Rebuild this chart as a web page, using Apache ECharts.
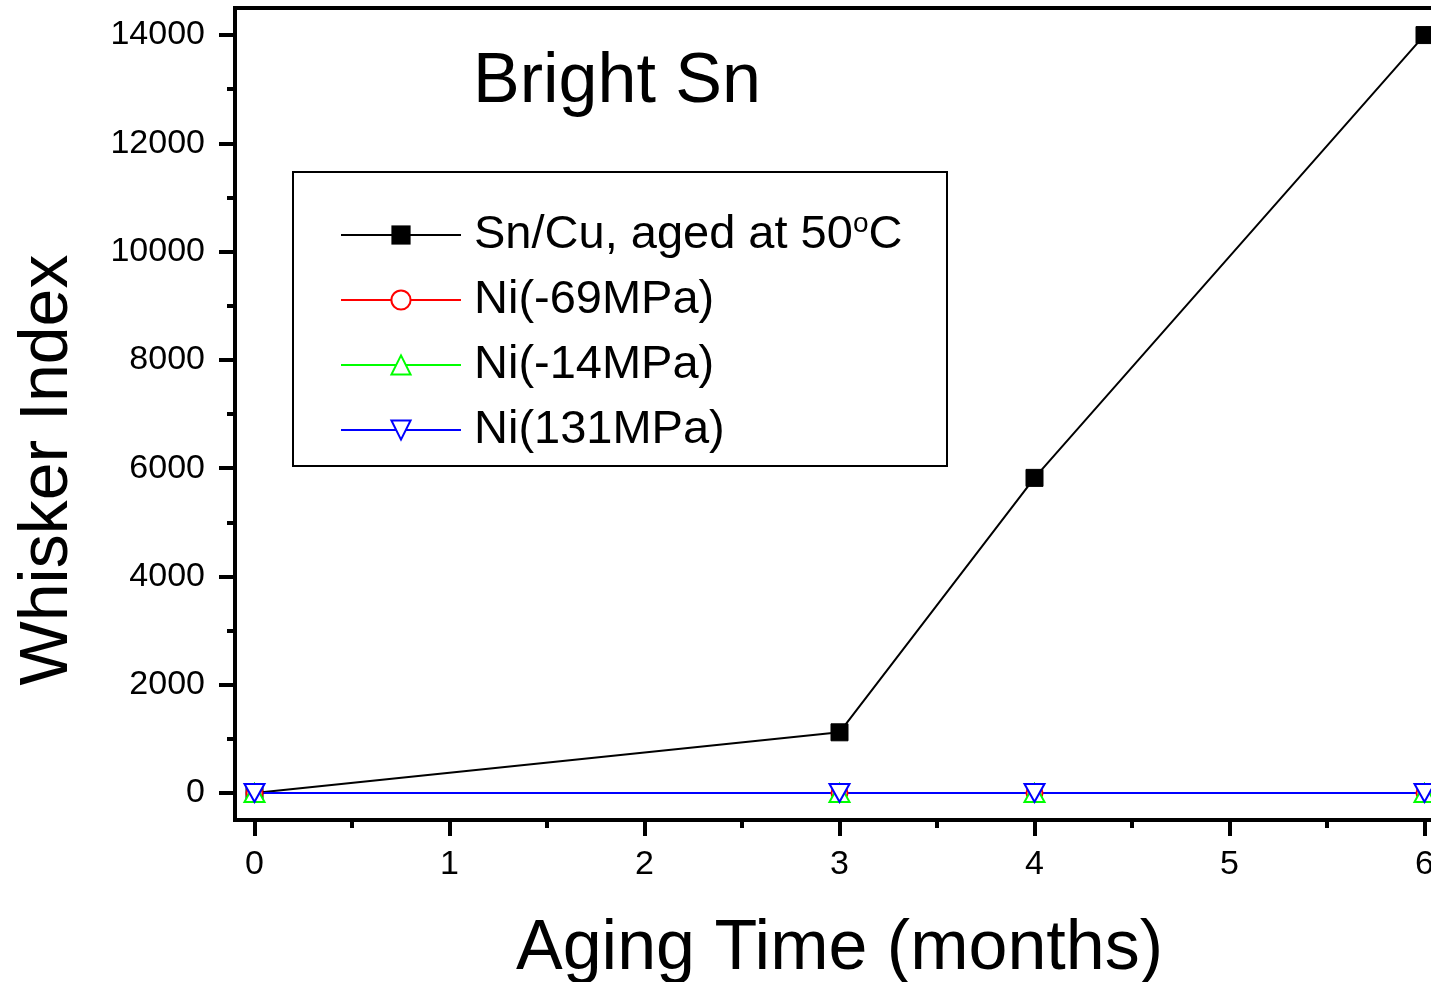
<!DOCTYPE html>
<html>
<head>
<meta charset="utf-8">
<script src="https://cdn.jsdelivr.net/npm/echarts@6/dist/echarts.min.js"></script>
<style>
  html, body { margin: 0; padding: 0; background: #fff; }
  #chart { width: 1431px; height: 982px; }
</style>
</head>
<body>
<div id="chart"></div>
<script>
// data
const months = [0, 3, 4, 6];
const snCu = [0, 1120, 5820, 14000];
const ni69 = [0, 0, 0, 0];
const ni14 = [0, 0, 0, 0];
const ni131 = [0, 0, 0, 0];

// tick positions
const xMajorTicks = [0, 1, 2, 3, 4, 5, 6];
const xMinorTicks = [0.5, 1.5, 2.5, 3.5, 4.5, 5.5];
const yMajorTicks = [0, 2000, 4000, 6000, 8000, 10000, 12000, 14000];
const yMinorTicks = [1000, 3000, 5000, 7000, 9000, 11000, 13000];

const FONT = "'Liberation Sans', Arial, sans-serif";
const pairs = (ys) => months.map((m, i) => [m, ys[i]]);

const chart = echarts.init(document.getElementById("chart"));

const xBase = {
  type: "value",
  min: -0.1,
  max: 6.1,
  position: "bottom",
  splitLine: { show: false },
};
const yBase = {
  type: "value",
  min: -500,
  max: 14500,
  position: "left",
  splitLine: { show: false },
};

const option = {
  animation: false,
  backgroundColor: "#fff",
  textStyle: { fontFamily: FONT },

  title: {
    text: "Bright Sn",
    left: 473,
    top: 48,
    padding: 0,
    textStyle: { fontFamily: FONT, fontSize: 70, fontWeight: "normal", color: "#000" },
  },

  grid: {
    left: 235,
    right: -13,
    top: 8,
    bottom: 162,
    outerBoundsMode: "none",
    show: true,
    borderColor: "#000",
    borderWidth: 4,
  },

  graphic: [
    {
      type: "rect",
      shape: { x: 293, y: 172, width: 654, height: 294 },
      style: { fill: "#fff", stroke: "#000", lineWidth: 2 },
      z: 5,
    },
  ],

  legend: {
    orient: "vertical",
    left: 340,
    top: 210,
    padding: 0,
    itemWidth: 120,
    itemHeight: 24,
    itemGap: 18,
    selectedMode: false,
    z: 10,
    formatter: (name) =>
      name === "Sn/Cu, aged at 50°C" ? "{a|Sn/Cu, aged at 50}{s|o}{a|C}" : "{a|" + name + "}",
    textStyle: {
      color: "#000",
      padding: [0, 0, 0, 8],
      rich: {
        a: { fontFamily: FONT, fontSize: 47, lineHeight: 50, color: "#000" },
        s: { fontFamily: FONT, fontSize: 28, lineHeight: 12, verticalAlign: "top", color: "#000" },
      },
    },
    data: ["Sn/Cu, aged at 50°C", "Ni(-69MPa)", "Ni(-14MPa)", "Ni(131MPa)"],
  },

  xAxis: [
    {
      ...xBase,
      name: "Aging Time (months)",
      nameLocation: "middle",
      nameGap: 95,
      nameTextStyle: { fontFamily: FONT, fontSize: 70, color: "#000" },
      axisLine: { show: true, onZero: false, lineStyle: { color: "#000", width: 4 } },
      axisTick: { show: true, customValues: xMajorTicks, length: 16, lineStyle: { color: "#000", width: 4 } },
      axisLabel: {
        customValues: xMajorTicks,
        margin: 28,
        fontSize: 34,
        color: "#000",
        fontFamily: FONT,
        formatter: (v) => String(v),
      },
    },
    {
      ...xBase,
      axisLine: { show: false, onZero: false },
      axisTick: { show: true, customValues: xMinorTicks, length: 8, lineStyle: { color: "#000", width: 4 } },
      axisLabel: { show: false },
    },
  ],

  yAxis: [
    {
      ...yBase,
      name: "Whisker Index",
      nameLocation: "middle",
      nameGap: 153,
      nameTextStyle: { fontFamily: FONT, fontSize: 68, color: "#000", padding: [0, 112, 0, 0] },
      axisLine: { show: true, onZero: false, lineStyle: { color: "#000", width: 4 } },
      axisTick: { show: true, customValues: yMajorTicks, length: 16, lineStyle: { color: "#000", width: 4 } },
      axisLabel: {
        customValues: yMajorTicks,
        margin: 30,
        fontSize: 34,
        color: "#000",
        fontFamily: FONT,
        formatter: (v) => String(v),
      },
    },
    {
      ...yBase,
      axisLine: { show: false, onZero: false },
      axisTick: { show: true, customValues: yMinorTicks, length: 8, lineStyle: { color: "#000", width: 4 } },
      axisLabel: { show: false },
    },
  ],

  series: [
    {
      name: "Sn/Cu, aged at 50°C",
      type: "line",
      data: pairs(snCu),
      symbol: "rect",
      symbolSize: 17,
      color: "#000",
      lineStyle: { color: "#000", width: 2 },
      itemStyle: { color: "#000", borderColor: "#000" },
    },
    {
      name: "Ni(-69MPa)",
      type: "line",
      data: pairs(ni69),
      symbol: "emptyCircle",
      symbolSize: 16,
      color: "#ff0000",
      lineStyle: { color: "#ff0000", width: 2 },
      itemStyle: { color: "#ff0000", borderWidth: 2 },
    },
    {
      name: "Ni(-14MPa)",
      type: "line",
      data: pairs(ni14),
      symbol: "emptyTriangle",
      symbolSize: [20, 18],
      color: "#00ff00",
      lineStyle: { color: "#00ff00", width: 2 },
      itemStyle: { color: "#00ff00", borderWidth: 2 },
    },
    {
      name: "Ni(131MPa)",
      type: "line",
      data: pairs(ni131),
      symbol: "emptyTriangle",
      symbolRotate: 180,
      symbolSize: [20, 18],
      color: "#0000ff",
      lineStyle: { color: "#0000ff", width: 2 },
      itemStyle: { color: "#0000ff", borderWidth: 2 },
    },
  ],
};

chart.setOption(option);
</script>
</body>
</html>
